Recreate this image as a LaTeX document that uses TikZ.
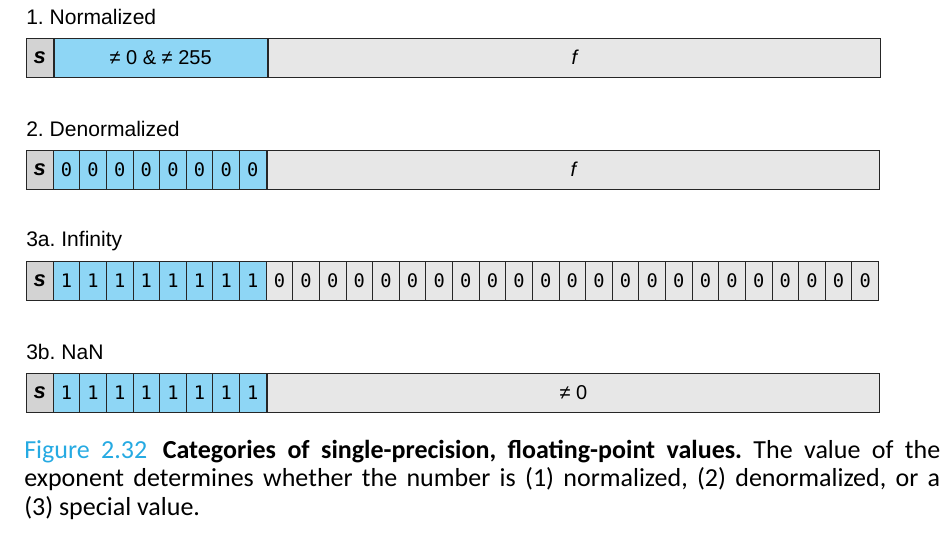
\documentclass[tikz,border=0pt]{standalone}
\usepackage{fontspec}
\setmainfont{Liberation Sans}
\newfontfamily\bitfont{DejaVu Sans Mono}
\newfontfamily\capfont{Carlito}
\usetikzlibrary{positioning}

\definecolor{expblue}{RGB}{142,214,245}
\definecolor{signgray}{RGB}{211,211,211}
\definecolor{fracgray}{RGB}{231,231,231}
\definecolor{figcyan}{RGB}{38,170,226}

\newcommand{\linewd}{687pt}
\frenchspacing

\begin{document}
\begin{tikzpicture}[x=0.75pt,y=-0.75pt]
\tikzstyle{every node}+=[inner sep=0pt]
\tikzstyle{title}=[anchor=west, font=\fontsize{15.8}{18}\selectfont]
\tikzstyle{bit}=[draw=black!85, line width=0.75pt, minimum height=29.25pt, minimum width=19.97pt, anchor=west, font=\fontsize{14}{15}\bitfont]
\tikzstyle{sign}=[bit, fill=signgray, font=\fontsize{16.5}{18}\selectfont\bfseries\itshape]
\tikzstyle{field}=[bit, font=\fontsize{15}{15}\selectfont]
\tikzstyle{ffield}=[bit, fill=fracgray, minimum width=23*19.97pt, font=\fontsize{15}{15}\selectfont\itshape]
\tikzstyle{capline}=[anchor=base west, font=\fontsize{19.5}{21}\capfont]
\useasboundingbox (0,0) rectangle (952,532);

% 1. Normalized
\node[title] (t-norm) at (26,17) {1. Normalized};
\node[sign] (norm-s) at (26,57.5) {s};
\node[field, fill=expblue, minimum width=8*19.97pt] (norm-e) at (norm-s.east) {≠ 0 \& ≠ 255};
\node[ffield] (norm-f) at (norm-e.east) {f};

% 2. Denormalized
\node[title] (t-denorm) at (26,129) {2. Denormalized};
\node[sign] (den-s) at (26,169.5) {s};
\foreach \i in {1,...,8}
  \node[bit, fill=expblue] (den-e\i) at (26+\i*26.625,169.5) {0};
\node[ffield] (den-f) at (den-e8.east) {f};

% 3a. Infinity
\node[title] (t-inf) at (26,241) {3a. Infinity};
\node[sign] (inf-s) at (26,280.5) {s};
\foreach \i in {1,...,8}
  \node[bit, fill=expblue] (inf-e\i) at (26+\i*26.625,280.5) {1};
\foreach \i in {9,...,31}
  \node[bit, fill=fracgray] (inf-f\i) at (26+\i*26.625,280.5) {0};

% 3b. NaN
\node[title] (t-nan) at (26,352) {3b. NaN};
\node[sign] (nan-s) at (26,392.5) {s};
\foreach \i in {1,...,8}
  \node[bit, fill=expblue] (nan-e\i) at (26+\i*26.625,392.5) {1};
\node[ffield, font=\fontsize{15}{15}\selectfont] (nan-f) at (nan-e8.east) {≠ 0};

% caption
\node[capline] (cap1) at (24,458) {\makebox[\linewd][s]{\textcolor{figcyan}{Figure 2.32}\hspace{0.6em}\textbf{Categories of single-precision, floating-point values.} The value of the}};
\node[capline] (cap2) at (24,486.5) {\makebox[\linewd][s]{exponent determines whether the number is (1) normalized, (2) denormalized, or a}};
\node[capline] (cap3) at (24,515) {(3) special value.};
\end{tikzpicture}
\end{document}
